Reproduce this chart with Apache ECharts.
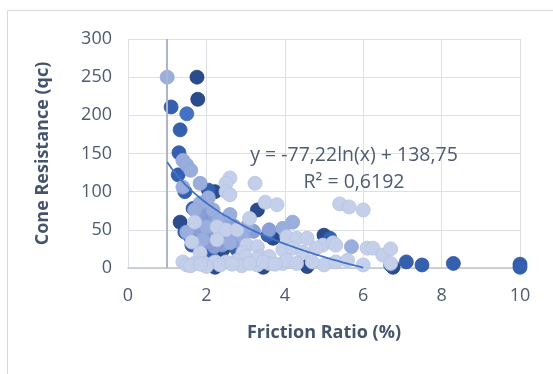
<!DOCTYPE html>
<html><head><meta charset="utf-8">
<script src="https://cdn.jsdelivr.net/npm/echarts@6/dist/echarts.min.js"></script>
<style>html,body{margin:0;padding:0;background:#fff}#c{width:553px;height:374px}</style>
</head><body><div id="c"></div>
<script>
const xTicks = [0,2,4,6,8,10];
const yTicks = [0,50,100,150,200,250,300];
const navyPts = [[1.76,250],[1.78,221],[2.22,100],[3.3,76],[1.33,60],[2.42,24],[3.7,39],[5.0,43],[2.22,1],[4.57,2],[6.76,1],[3.45,1],[2.0,30]];
const midPts = [[1.1,211],[1.33,181],[1.3,151],[1.28,122],[1.45,100],[3.57,43],[2.78,24],[5.15,39],[7.1,8],[7.5,4],[8.3,6],[10,5],[10,1],[6.7,4],[2.1,14],[1.6,40],[1.45,47],[1.63,30],[1.66,78],[2.05,102]];
const brightPts = [[1.5,202]];
const midLightPts = [[2.0,70],[2.3,45],[2.1,40],[2.5,62],[2.7,55],[1.9,48],[2.4,30],[3.2,48],[2.8,35],[3.6,50],[2.2,28],[1.75,52],[1.9,60],[2.1,58],[2.3,50],[2.4,40],[2.6,45],[2.2,65],[2.0,45],[1.8,70],[2.5,38],[2.1,33],[2.8,42],[2.35,58]];
const lightPts = [[1.0,250],[1.4,141],[1.5,135],[1.6,128],[1.84,111],[2.05,92],[1.84,85],[1.7,76],[1.5,47],[2.0,54],[3.03,54],[4.2,60],[3.95,52],[5.7,28],[2.17,76],[1.4,106],[2.6,70],[2.3,62],[1.9,37],[2.6,33],[2.93,41]];
const veryLightPts = [[2.6,118],[2.5,111],[3.24,111],[2.5,100],[2.6,96],[3.5,86],[3.8,83],[5.4,84],[5.64,80],[6.0,76],[3.1,65],[1.7,60],[1.63,34],[2.27,54],[2.5,50],[2.78,50],[2.27,37],[1.84,20],[4.05,41],[4.3,39],[4.57,39],[4.97,30],[5.23,33],[5.3,30],[3.03,30],[3.3,28],[2.93,20],[3.37,15],[3.6,15],[3.95,24],[4.2,26],[4.46,21],[4.8,26],[6.1,26],[6.25,26],[6.5,17],[6.7,25],[6.7,6],[6.0,4],
 [1.4,8],[1.7,6],[1.96,6],[2.22,8],[2.5,8],[2.78,10],[3.0,15],[3.3,4],[3.6,6],[3.95,6],[4.05,10],[4.3,6],[5.0,4],[5.3,8],[5.6,10],[4.7,8],[2.9,3],[3.3,12],[1.5,4],[2.0,2],
 [1.6,3],[1.85,5],[2.35,4],[2.65,5],[3.1,6],[3.45,8],[3.75,5]];
const trendA = -77.22, trendB = 138.75, trendFrom = 1, trendTo = 6;
const eqText = 'y = -77,22ln(x) + 138,75';
const r2Text = 'R² = 0,6192';

const trend = [];
for (let i = 0; i <= 50; i++) { const x = trendFrom + (trendTo - trendFrom) * i / 50; trend.push([x, trendA * Math.log(x) + trendB]); }

const chart = echarts.init(document.getElementById('c'));
const sc = (data, color, border) => ({type:'scatter', data, symbolSize:14, itemStyle:{color, borderColor:border||color, borderWidth:0.8, opacity:1}, z:3, animation:false});
chart.setOption({
  animation:false,
  grid:{left:128, right:33, top:39, bottom:106},
  xAxis:{type:'value', min:0, max:10, interval:2,
    axisLine:{show:true, onZero:false, lineStyle:{color:'#BFC4CE', width:1.5}},
    axisTick:{show:false},
    splitLine:{show:true, lineStyle:{color:'#DDE1E7', width:1}},
    axisLabel:{color:'#4F5B6E', fontSize:18, fontFamily:'Open Sans', margin:19},
    name:'Friction Ratio (%)', nameLocation:'middle', nameGap:56,
    nameTextStyle:{color:'#44546A', fontSize:18, fontWeight:'bold', fontFamily:'Open Sans'}},
  yAxis:{type:'value', min:0, max:300, interval:50,
    axisLine:{show:false}, axisTick:{show:false},
    splitLine:{show:true, lineStyle:{color:'#DDE1E7', width:1}},
    axisLabel:{color:'#4F5B6E', fontSize:18, fontFamily:'Open Sans', margin:16},
    name:'Cone Resistance (qc)', nameLocation:'middle', nameGap:76, nameRotate:90,
    nameTextStyle:{color:'#44546A', fontSize:18, fontWeight:'bold', fontFamily:'Open Sans'}},
  series:[
    {type:'line', data:[], markLine:{silent:true, symbol:'none', label:{show:false}, lineStyle:{color:'#AEB6C6', width:2, type:'solid'}, data:[{xAxis:1}]}, z:2},
    sc(navyPts,'#2A4B8D','#233F78'),
    sc(midPts,'#3560B0','#2F56A0'),
    sc(brightPts,'#4472C4','#3D68B5'),
    sc(midLightPts,'#8A9FD6','#7F96D2'),
    sc(lightPts,'#9AAEDE','#8FA5DA'),
    sc(veryLightPts,'#C4CFEA','#B5C3E4'),
    {type:'line', data:trend, showSymbol:false, smooth:true, lineStyle:{color:'#4472C4', width:1.8}, z:5, animation:false}
  ],
  graphic:[
    {type:'rect', shape:{x:7.5, y:10.5, width:600, height:400}, style:{fill:'none', stroke:'#D9D9D9', lineWidth:1}, z:-1, silent:true},
    {type:'text', x:354, y:155, style:{text:eqText, fill:'#4F5B6E', fontSize:19.5, fontFamily:'Open Sans', align:'center', verticalAlign:'middle'}, z:10},
    {type:'text', x:354, y:182, style:{text:r2Text, fill:'#4F5B6E', fontSize:19.5, fontFamily:'Open Sans', align:'center', verticalAlign:'middle'}, z:10}
  ]
});
</script></body></html>
